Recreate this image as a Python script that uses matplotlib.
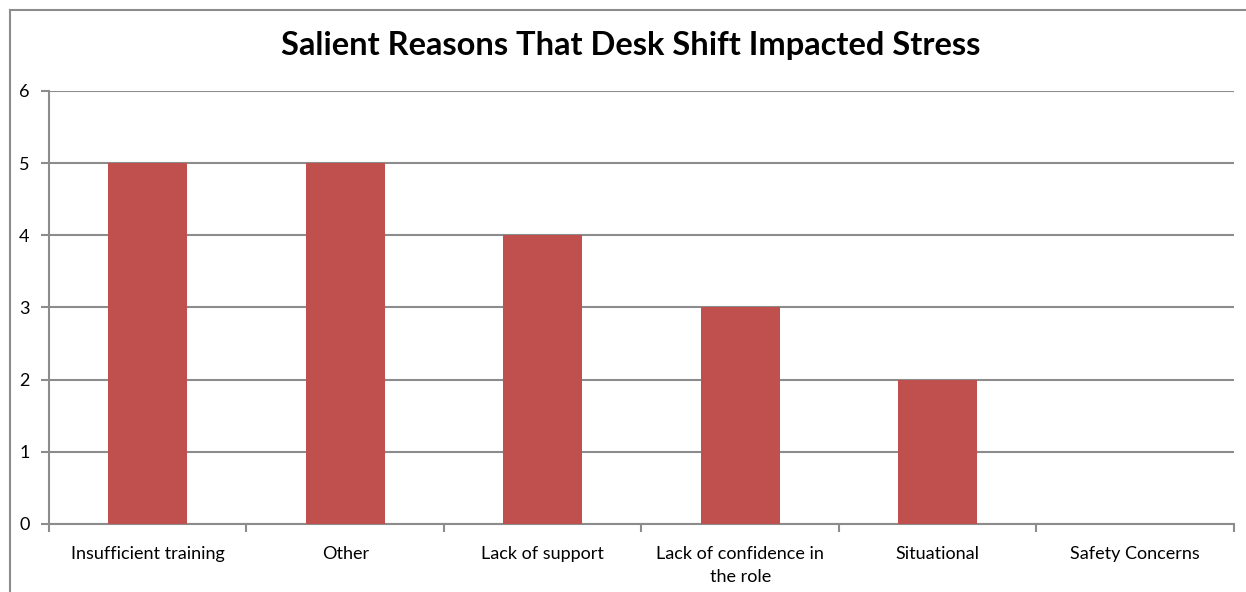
import matplotlib
matplotlib.use('Agg')
import matplotlib.pyplot as plt
from matplotlib.lines import Line2D
import numpy as np

categories = ['Insufficient training', 'Other', 'Lack of support',
              'Lack of confidence in\nthe role', 'Situational', 'Safety Concerns']
counts = [5, 5, 4, 3, 2, 0]
yticks = [0, 1, 2, 3, 4, 5, 6]

plt.rcParams['font.family'] = ['Lato', 'DejaVu Sans']

fig = plt.figure(figsize=(12.46, 5.92), dpi=100)
ax = fig.add_axes([0.0393, 0.1149, 0.951, 0.7314])

grey = '#8c8c8c'
x = np.arange(len(categories))
ax.bar(x, counts, width=0.4, color='#c0504d', zorder=3)

ax.set_xlim(-0.5, len(categories) - 0.5)
ax.set_ylim(0, 6)
ax.set_yticks(yticks)
ax.yaxis.grid(True, color=grey, linewidth=1.5, zorder=0)

# category labels centered, tick marks on boundaries
ax.set_xticks(np.arange(len(categories) + 1) - 0.5)
ax.set_xticklabels([])
ax.set_xticks(x, minor=True)
ax.set_xticklabels(categories, minor=True, fontsize=13, linespacing=1.55)
ax.tick_params(axis='x', which='minor', length=0, pad=16)
ax.tick_params(axis='x', which='major', length=6, color=grey, width=1.5)
ax.tick_params(axis='y', length=6, color=grey, width=1.5, labelsize=13, pad=8)

for s in ['top', 'right']:
    ax.spines[s].set_visible(False)
for s in ['left', 'bottom']:
    ax.spines[s].set_color(grey)
    ax.spines[s].set_linewidth(1.5)

fig.text(631 / 1246, 1 - 45 / 592, 'Salient Reasons That Desk Shift Impacted Stress',
         fontsize=23.5, fontweight='bold', ha='center', va='center')

# outer chart frame (top and left edges visible in the crop)
fig.add_artist(Line2D([10 / 1246, 10 / 1246], [0, 1 - 10 / 592],
                      transform=fig.transFigure, color=grey, linewidth=1.5))
fig.add_artist(Line2D([10 / 1246, 1], [1 - 10 / 592, 1 - 10 / 592],
                      transform=fig.transFigure, color=grey, linewidth=1.5))

fig.savefig('out.png', dpi=100)
